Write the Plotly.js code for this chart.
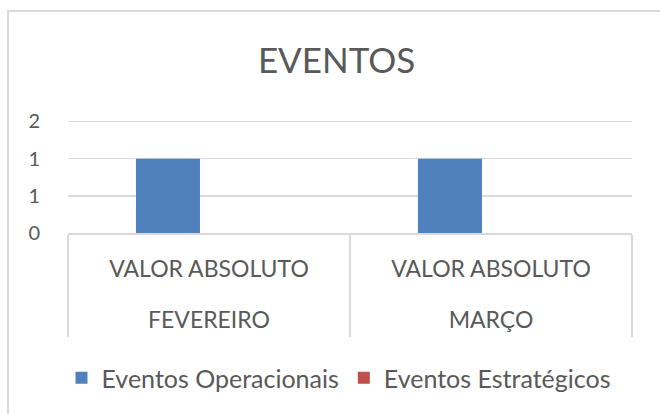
<!DOCTYPE html>
<html>
<head>
<meta charset="utf-8">
<script src="https://cdn.plot.ly/plotly-3.0.1.min.js"></script>
<style>
  html, body { margin: 0; padding: 0; width: 660px; height: 414px; overflow: hidden; background: #fff; }
  #frame { position: absolute; left: 7px; top: 10px; width: 700px; height: 500px; border: 2.5px solid #d9d9d9; box-sizing: border-box; }
  #chart { position: absolute; left: 0; top: 0; width: 660px; height: 414px; }
</style>
</head>
<body>
<div id="frame"></div>
<div id="chart"></div>
<script>
const months = ["FEVEREIRO", "MARÇO"];
const measure = ["VALOR ABSOLUTO", "VALOR ABSOLUTO"];
const seriesNames = ["Eventos Operacionais", "Eventos Estratégicos"];
const operacionais = [1, 1];
const estrategicos = [0, 0];
const yTickVals = [0, 0.5, 1, 1.5];
const yTickText = ["0", "1", "1", "2"];

const FONT = "Lato, 'Liberation Sans', sans-serif";
const TXT = "#595959";
const GRID = "#d9d9d9";

const traces = [
  { type: "bar", name: seriesNames[0], x: months, y: operacionais, xaxis: "x", yaxis: "y",
    alignmentgroup: "g", offsetgroup: "op", marker: { color: "#4f81bd" } },
  { type: "bar", name: seriesNames[1], x: months, y: estrategicos, xaxis: "x2", yaxis: "y",
    alignmentgroup: "g", offsetgroup: "es", marker: { color: "#c0504d" } }
];

const layout = {
  width: 660, height: 414,
  margin: { l: 68, r: 28, t: 120, b: 181 },
  paper_bgcolor: "rgba(0,0,0,0)",
  plot_bgcolor: "rgba(0,0,0,0)",
  font: { family: FONT, color: TXT },
  title: { text: "EVENTOS", font: { family: FONT, size: 35, color: TXT }, x: 0.51, xref: "container", xanchor: "center", y: 1 - 61 / 414, yref: "container", yanchor: "middle" },
  barmode: "group",
  bargap: 0.418,
  bargroupgap: 0.22,
  xaxis: {
    type: "category",
    categoryarray: months,
    tickvals: months, ticktext: measure,
    tickson: "boundaries",
    ticks: "outside", ticklen: 102, tickwidth: 1.5, tickcolor: GRID,
    showline: true, linecolor: GRID, linewidth: 1.5,
    tickfont: { family: FONT, size: 23, color: TXT },
    ticklabelstandoff: 15,
    showgrid: false, zeroline: false
  },
  xaxis2: {
    overlaying: "x", matches: "x", anchor: "y", side: "bottom",
    type: "category", categoryarray: months,
    ticks: "", showline: false, showgrid: false, zeroline: false,
    tickfont: { family: FONT, size: 23, color: TXT },
    ticklabelstandoff: 71
  },
  yaxis: {
    range: [0, 1.52],
    tickvals: yTickVals, ticktext: yTickText,
    tickfont: { family: FONT, size: 20, color: TXT },
    showgrid: true, gridcolor: GRID, gridwidth: 1.5,
    zeroline: false, showline: false,
    ticklabelstandoff: 27
  },
  showlegend: true,
  legend: {
    orientation: "h",
    xref: "container", yref: "container",
    x: 339 / 660, xanchor: "center",
    y: 1 - 378 / 414, yanchor: "middle",
    font: { family: FONT, size: 25, color: TXT },
    bgcolor: "rgba(0,0,0,0)"
  }
};

Plotly.newPlot("chart", traces, layout, { displayModeBar: false, staticPlot: true });
</script>
</body>
</html>
